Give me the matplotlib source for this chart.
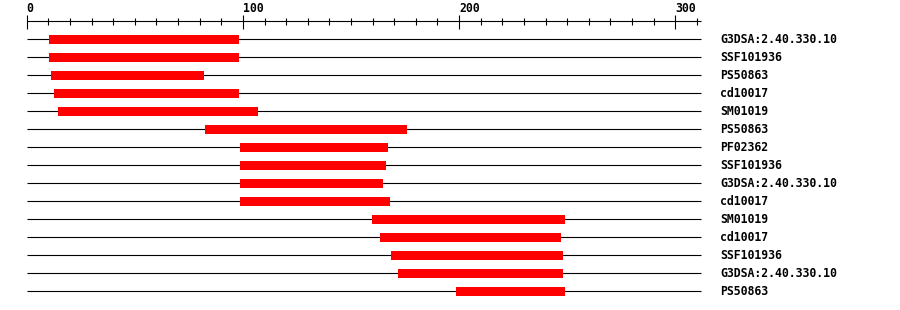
import matplotlib
matplotlib.use("Agg")
import matplotlib.pyplot as plt
import numpy as np

# ---- data ----
seq_length = 312
labels = ["G3DSA:2.40.330.10", "SSF101936", "PS50863", "cd10017", "SM01019",
          "PS50863", "PF02362", "SSF101936", "G3DSA:2.40.330.10", "cd10017",
          "SM01019", "cd10017", "SSF101936", "G3DSA:2.40.330.10", "PS50863"]
starts = [10.3, 10.3, 11.3, 12.6, 14.5, 82.5, 98.7, 98.7, 98.7, 98.7,
          159.7, 163.4, 168.5, 171.7, 198.6]
ends = [98.2, 98.2, 82.0, 98.2, 107.0, 175.9, 167.1, 166.2, 164.8, 168.0,
        249.0, 247.1, 248.0, 248.0, 249.0]
major_ticks = [0, 100, 200, 300]
minor_ticks = list(range(0, 311, 10))

# ---- figure ----
W, H = 900, 310
fig = plt.figure(figsize=(W / 100, H / 100), dpi=100)
ax = fig.add_axes([0, 0, 1, 1])
ax.set_axis_off()

px0, ppu = 26.67, 2.1622          # pixel of 0, pixels per unit
row0, rowh = 39.3, 18.0           # pixel of first row, row spacing
ax.set_xlim(-px0 / ppu, (W - px0) / ppu)
ax.set_ylim((H - row0) / rowh, -row0 / rowh)

lw = 0.8
font = dict(family="DejaVu Sans Mono", weight="bold", size=8.3)

# ruler
ax.plot([0, seq_length], [-1, -1], color="black", lw=lw, solid_capstyle="butt")
for t in minor_ticks:
    if t in major_ticks:
        ax.plot([t, t], [-1.37, -0.59], color="black", lw=lw, solid_capstyle="butt")
    else:
        ax.plot([t, t], [-1.20, -0.78], color="black", lw=lw, solid_capstyle="butt")
for t in major_ticks:
    ax.text(t, -1.53, str(t), ha="left", va="baseline", color="black", **font)

# rows
bar_h = 0.5
for i, (lab, s, e) in enumerate(zip(labels, starts, ends)):
    ax.plot([0, seq_length], [i, i], color="black", lw=lw, solid_capstyle="butt", zorder=1)
    ax.barh(i, e - s, left=s, height=bar_h, color="#ff0000", zorder=2, linewidth=0)
    ax.text(320.7, i + 0.03, lab, ha="left", va="center", color="black", **font)

fig.savefig("out.png", dpi=100, facecolor="white")
